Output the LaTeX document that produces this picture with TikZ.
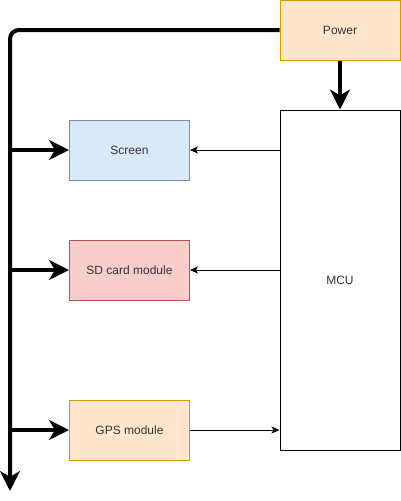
\documentclass[tikz,border=0pt]{standalone}
\usepackage{fontspec}
\setmainfont{Liberation Sans}
\usetikzlibrary{arrows.meta}
\definecolor{orfill}{HTML}{FFE6CC}
\definecolor{ordraw}{HTML}{D79B00}
\definecolor{blfill}{HTML}{DAE8FC}
\definecolor{bldraw}{HTML}{6C8EBF}
\definecolor{rdfill}{HTML}{F8CECC}
\definecolor{rddraw}{HTML}{B85450}
\definecolor{txt}{HTML}{333333}
\tikzset{
  box/.style={draw, line width=1pt, minimum width=120pt, minimum height=60pt, inner sep=0pt, text=txt, font=\fontsize{12}{14}\selectfont},
  orbox/.style={box, fill=orfill, draw=ordraw},
  blbox/.style={box, fill=blfill, draw=bldraw},
  rdbox/.style={box, fill=rdfill, draw=rddraw},
  thick arrow/.style={line width=4pt, -{Stealth[length=20pt,width=20pt,inset=6pt]}},
  thin arrow/.style={line width=1pt, -{Stealth[length=8pt,width=7pt,inset=2pt]}},
}
\begin{document}
\begin{tikzpicture}[x=1pt,y=-1pt]
\useasboundingbox (0,0) rectangle (401,501);
\node[orbox] (power) at (340,30) {Power};
\node[box, minimum height=340pt] (mcu) at (340,280) {MCU};
\node[blbox] (screen) at (129.5,150) {Screen};
\node[rdbox] (sd) at (129.5,270) {SD card module};
\node[orbox] (gps) at (129.5,430) {GPS module};
\coordinate (bend) at (10,30);
\coordinate (bottom) at (10,491);
\coordinate (b1) at (10,150);
\coordinate (b2) at (10,270);
\coordinate (b3) at (10,430);
\draw[thick arrow, rounded corners=9pt] (power.west) -- (bend) -- (bottom);
\draw[thick arrow] (b1) -- (screen.west);
\draw[thick arrow] (b2) -- (sd.west);
\draw[thick arrow] (b3) -- (gps.west);
\draw[thick arrow] (power.south) -- (mcu.north);
\draw[thin arrow] (mcu.west |- screen.east) -- (screen.east);
\draw[thin arrow] (mcu.west |- sd.east) -- (sd.east);
\draw[thin arrow] (gps.east) -- (mcu.west |- gps.east);
\end{tikzpicture}
\end{document}
